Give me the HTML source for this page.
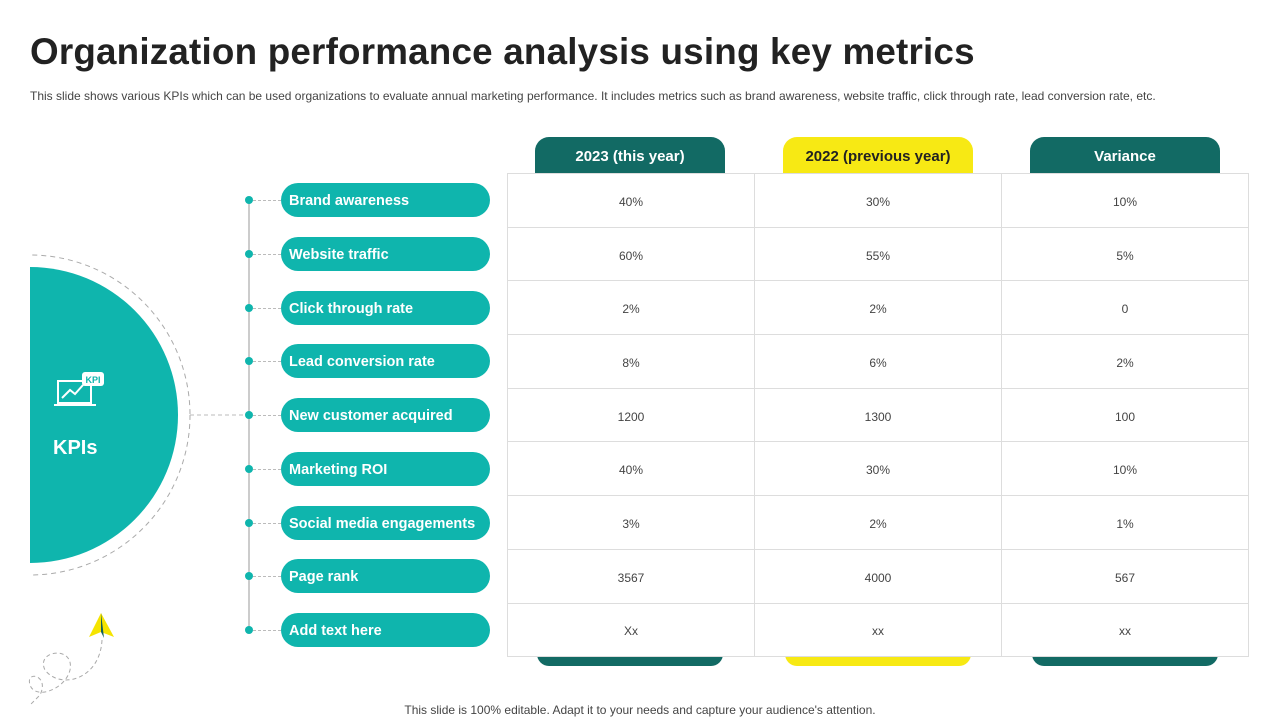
<!DOCTYPE html>
<html><head><meta charset="utf-8"><style>
body{margin:0;width:1280px;height:720px;background:#fff;font-family:"Liberation Sans",sans-serif;position:relative;overflow:hidden}
.abs{position:absolute}
h1{position:absolute;left:30px;top:31px;margin:0;font-size:36.8px;font-weight:bold;color:#222;letter-spacing:0.2px}
.sub{left:30px;top:89px;font-size:12px;color:#444;white-space:nowrap}
.pill{position:absolute;left:281px;width:209px;height:34px;border-radius:17px;background:#0fb5ad;color:#fff;font-weight:bold;font-size:14.5px;line-height:36px;padding-left:8px;box-sizing:border-box}
.dot{position:absolute;left:245px;width:8px;height:8px;border-radius:50%;background:#0fb5ad}
.conn{position:absolute;left:253px;width:28px;border-top:1px dashed #bbb}
.tab{position:absolute;top:137px;width:190px;height:37px;border-radius:14px 14px 0 0;text-align:center;line-height:39px;font-weight:bold;font-size:15px;color:#fff}
.btab{position:absolute;top:650px;width:186px;height:16px;border-radius:0 0 12px 12px}
table{position:absolute;left:507px;top:173px;border-collapse:collapse}
td{width:246px;height:49.7px;border:1px solid #ddd;text-align:center;font-size:12px;color:#444;padding:3px 0 0 0;background:#fff;box-sizing:content-box}
</style></head><body>
<h1>Organization performance analysis using key metrics</h1>
<div class="abs sub">This slide shows various KPIs which can be used organizations to evaluate annual marketing performance. It includes metrics such as brand awareness, website traffic, click through rate, lead conversion rate, etc.</div>

<svg class="abs" style="left:0;top:0" width="300" height="720">
<defs><clipPath id="c"><rect x="30" y="0" width="300" height="720"/></clipPath></defs>
<circle cx="30" cy="415" r="160" fill="none" stroke="#aaa" stroke-dasharray="5,4" clip-path="url(#c)"/>
<circle cx="30" cy="415" r="148" fill="#0fb5ad" clip-path="url(#c)"/>
<line x1="190" y1="415" x2="249" y2="415" stroke="#bbb" stroke-dasharray="4,3"/>
<line x1="249" y1="200" x2="249" y2="630" stroke="#bbb" stroke-width="1.5"/>
<g fill="none" stroke="#fff" stroke-width="2"><rect x="58" y="381" width="33" height="22"/><line x1="54" y1="405" x2="96" y2="405"/><polyline points="62,398 70,390 75,394 83,385"/></g>
<rect x="82" y="372" width="22" height="14" rx="3" fill="#fff"/><text x="93" y="383" font-size="9" font-weight="bold" fill="#0fb5ad" text-anchor="middle" font-family="Liberation Sans">KPI</text>
<text x="53" y="454" font-size="20" font-weight="bold" fill="#fff" font-family="Liberation Sans">KPIs</text>
<polygon points="101,613 89,637 101,632 114,637" fill="#f5e400"/><polygon points="101,613 101,632 104,638" fill="#155f58"/>
<path d="M102,640 C100,680 60,690 45,670 C35,650 75,645 70,670 C65,690 35,700 30,685 C25,670 50,675 40,695 L30,705" fill="none" stroke="#aaa" stroke-dasharray="4,3"/>
</svg>

<div id="rows"></div>
<div class="tab" style="left:535px;background:#126a64">2023 (this year)</div>
<div class="tab" style="left:783px;background:#f7e914;color:#222">2022 (previous year)</div>
<div class="tab" style="left:1030px;background:#126a64">Variance</div>
<div class="btab" style="left:537px;background:#126a64"></div>
<div class="btab" style="left:785px;background:#f7e914"></div>
<div class="btab" style="left:1032px;background:#126a64"></div>
<table id="tbl"></table>
<div class="abs" style="left:0;width:1280px;top:703px;text-align:center;font-size:12px;color:#444">This slide is 100% editable. Adapt it to your needs and capture your audience's attention.</div>
<script>
const kpis=["Brand awareness","Website traffic","Click through rate","Lead conversion rate","New customer acquired","Marketing ROI","Social media engagements","Page rank","Add  text here"];
const thisYear=["40%","60%","2%","8%","1200","40%","3%","3567","Xx"];
const prevYear=["30%","55%","2%","6%","1300","30%","2%","4000","xx"];
const variance=["10%","5%","0","2%","100","10%","1%","567","xx"];
const rows=document.getElementById('rows'),tbl=document.getElementById('tbl');
kpis.forEach((k,i)=>{
 const cy=200+i*53.75;
 const d=document.createElement('div');d.className='dot';d.style.top=(cy-4)+'px';
 
 rows.appendChild(d);
 const c=document.createElement('div');c.className='conn';c.style.top=cy+'px';
 
 rows.appendChild(c);
 const p=document.createElement('div');p.className='pill';p.style.top=(cy-17)+'px';p.textContent=k;
 
 rows.appendChild(p);
 const tr=document.createElement('tr');
 
 
 [thisYear[i],prevYear[i],variance[i]].forEach(v=>{const td=document.createElement('td');td.textContent=v;
 
 tr.appendChild(td);});
 tbl.appendChild(tr);
});
</script>
</body></html>
